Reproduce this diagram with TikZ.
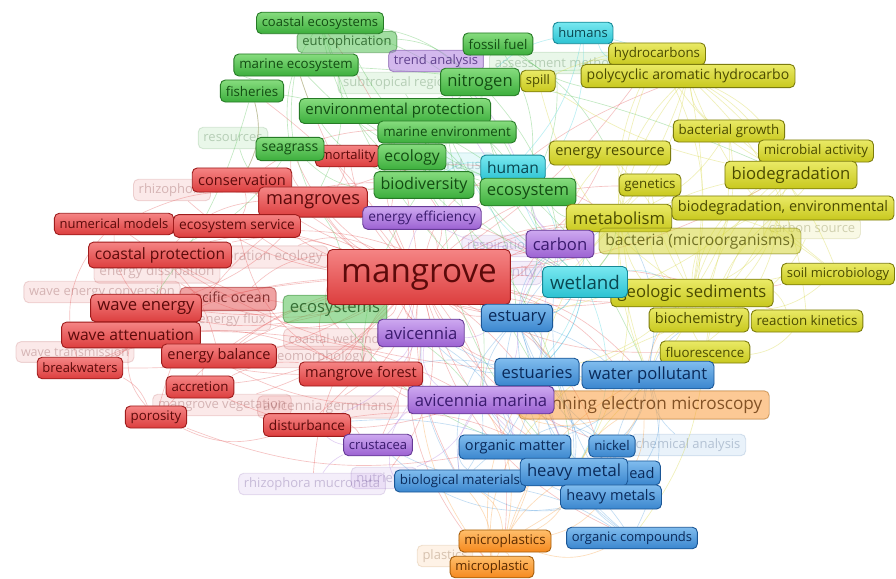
\documentclass[tikz,border=0pt]{standalone}
\usepackage{fontspec}
\setmainfont{Open Sans}
\definecolor{rdT}{HTML}{F58484}\definecolor{rdB}{HTML}{DC3E3E}\definecolor{rdM}{HTML}{E55858}\definecolor{rdD}{HTML}{9E1C1C}\definecolor{rdX}{HTML}{5C0A0A}
\definecolor{gnT}{HTML}{86DC7E}\definecolor{gnB}{HTML}{3CAE3C}\definecolor{gnM}{HTML}{55C255}\definecolor{gnD}{HTML}{267A26}\definecolor{gnX}{HTML}{124C12}
\definecolor{ylT}{HTML}{EAEA66}\definecolor{ylB}{HTML}{C8C81E}\definecolor{ylM}{HTML}{D6D63A}\definecolor{ylD}{HTML}{7C7C0E}\definecolor{ylX}{HTML}{4A4A00}
\definecolor{puT}{HTML}{CDA8F0}\definecolor{puB}{HTML}{9C62D2}\definecolor{puM}{HTML}{B07FE0}\definecolor{puD}{HTML}{663A96}\definecolor{puX}{HTML}{3A1A6E}
\definecolor{blT}{HTML}{80BCEE}\definecolor{blB}{HTML}{3A86CE}\definecolor{blM}{HTML}{55A0E0}\definecolor{blD}{HTML}{1A5696}\definecolor{blX}{HTML}{0A2A5A}
\definecolor{cyT}{HTML}{78E8F0}\definecolor{cyB}{HTML}{2CC2D2}\definecolor{cyM}{HTML}{45D4E0}\definecolor{cyD}{HTML}{168896}\definecolor{cyX}{HTML}{0A4650}
\definecolor{ogT}{HTML}{FFBE6A}\definecolor{ogB}{HTML}{F5891E}\definecolor{ogM}{HTML}{FA9E3E}\definecolor{ogD}{HTML}{A65E0C}\definecolor{ogX}{HTML}{5A2A00}
\pgfdeclarelayer{bg}
\pgfdeclarelayer{faded}
\pgfdeclarelayer{edges}
\pgfsetlayers{bg,faded,edges,main}
\tikzset{
  kw/.style={rounded corners=5pt, line width=0.9pt, inner ysep=0pt},
  fs/.code={\pgfmathsetmacro\myfsz{1.04*#1}%
    \edef\myfscmd{\noexpand\tikzset{font=\noexpand\fontsize{\myfsz}{\myfsz}\noexpand\selectfont}}\myfscmd
    \tikzset{minimum height={1.72*#1}, inner xsep={0.42*#1}}},
}
\newcommand\mkclus[1]{\tikzset{
  #1/.style={kw, draw=#1D, top color=#1T, bottom color=#1B, text=#1X},
  #1s/.style={kw, draw=#1D, fill=#1M, fill opacity=.55, draw opacity=.5, text opacity=.75, text=#1X},
  #1f/.style={kw, draw=#1D, fill=#1M, fill opacity=.13, draw opacity=.16, text opacity=.24, text=#1X},
  #1e/.style={draw=#1M, draw opacity=.36, line width=.65pt}}}
\mkclus{rd}\mkclus{gn}\mkclus{yl}\mkclus{pu}\mkclus{bl}\mkclus{cy}\mkclus{og}
\begin{document}
\begin{tikzpicture}[x=1pt,y=-1pt]
\begin{pgfonlayer}{bg}
\fill[white] (0,0) rectangle (896,578);
\end{pgfonlayer}
\useasboundingbox (0,0) rectangle (896,578);
% faded labels
\begin{pgfonlayer}{faded}
\node[gnf, fs=12.5] (subtrop) at (398,83) {subtropical region};
\node[gnf, fs=12.5] (resource) at (233,138) {resources};
\node[gnf, fs=12.5] (assess) at (556,63) {assessment method};
\node[cyf, fs=13] (landuse) at (462,164) {land use};
\node[ylf, fs=12.5] (carbSrc) at (812,228) {carbon source};
\node[puf, fs=12.5] (respir) at (500,246) {respiration};
\node[puf, fs=13.5] (salin) at (513,273) {salinity};
\node[puf, fs=12.5] (nutr) at (384,478) {nutrients};
\node[puf, fs=12.5] (rhizM) at (312,484) {rhizophora mucronata};
\node[rdf, fs=12.5] (rhizo) at (172,190) {rhizophora};
\node[rdf, fs=13] (restor) at (262,257) {restoration ecology};
\node[rdf, fs=13] (enDiss) at (157,272) {energy dissipation};
\node[rdf, fs=12.5] (waveConv) at (102,292) {wave energy conversion};
\node[rdf, fs=12.5] (enFlux) at (232,320) {energy flux};
\node[rdf, fs=12] (coastWet) at (334,339) {coastal wetland};
\node[rdf, fs=12] (waveTr) at (75,352) {wave transmission};
\node[rdf, fs=12.5] (geomorph) at (318,357) {geomorphology};
\node[rdf, fs=12.5] (mangVeg) at (222,405) {mangrove vegetation};
\node[rdf, fs=13] (avicG) at (328,407) {avicennia germinans};
\node[blf, fs=12.5] (chemAn) at (688,445) {chemical analysis};
\node[ogf, fs=12.5] (plast) at (445,556) {plastics};
\end{pgfonlayer}
% main labels
\node[gns, fs=12.5] (eutro) at (347,42) {eutrophication};
\node[gn, fs=12.5] (coastEco) at (320,23) {coastal ecosystems};
\node[gn, fs=12.8] (marEco) at (296,65) {marine ecosystem};
\node[gn, fs=12.8] (fish) at (252,91) {fisheries};
\node[pus, fs=12.5] (trend) at (436,61) {trend analysis};
\node[gn, fs=12.8] (fossil) at (498,44) {fossil fuel};
\node[yl, fs=12.5] (spill) at (538,81) {spill};
\node[gn, fs=16] (nitro) at (480,82) {nitrogen};
\node[gn, fs=14.5] (envProt) at (395,111) {environmental protection};
\node[gn, fs=12.8] (marEnv) at (447,132) {marine environment};
\node[rd, fs=12.5] (mort) at (348,156) {mortality};
\node[gn, fs=13.5] (seagr) at (290,149) {seagrass};
\node[gn, fs=15] (ecol) at (412,157) {ecology};
\node[cy, fs=15] (human) at (513,168) {human};
\node[gn, fs=15.5] (biodiv) at (424,185) {biodiversity};
\node[gn, fs=16] (ecosys) at (528,192) {ecosystem};
\node[cy, fs=12.5] (humans) at (583,33) {humans};
\node[yl, fs=12.8] (hydro) at (657,54) {hydrocarbons};
\node[yl, fs=13.5] (pah) at (688,76) {polycyclic aromatic hydrocarbo};
\node[yl, fs=12.8] (bactGr) at (729,131) {bacterial growth};
\node[yl, fs=14] (enRes) at (610,153) {energy resource};
\node[yl, fs=12.8] (microb) at (816,151) {microbial activity};
\node[yl, fs=16] (biodeg) at (791,175) {biodegradation};
\node[yl, fs=12.8] (genet) at (650,185) {genetics};
\node[yl, fs=14] (biodegEnv) at (783,208) {biodegradation, environmental};
\node[yl, fs=16] (metab) at (619,218) {metabolism};
\node[yls, fs=15] (bactMicro) at (700,241) {bacteria (microorganisms)};
\node[pu, fs=16] (carbon) at (560,244) {carbon};
\node[yl, fs=12.5] (soilMic) at (838,274) {soil microbiology};
\node[yl, fs=16] (geoSed) at (692,293) {geologic sediments};
\node[cy, fs=18] (wetland) at (585,282) {wetland};
\node[yl, fs=12.8] (reactK) at (807,321) {reaction kinetics};
\node[yl, fs=14] (biochem) at (699,320) {biochemistry};
\node[yl, fs=12.8] (fluor) at (705,352) {fluorescence};
\node[rd, fs=14] (conserv) at (242,180) {conservation};
\node[rd, fs=17.5] (mangroves) at (313,202) {mangroves};
\node[rd, fs=12.5] (numMod) at (114,224) {numerical models};
\node[rd, fs=13.2] (ecoServ) at (237,226) {ecosystem service};
\node[pu, fs=13.2] (enEff) at (422,218) {energy efficiency};
\node[rd, fs=15] (coastProt) at (160,255) {coastal protection};
\node[rds, fs=13.5] (pacific) at (228,299) {pacific ocean};
\node[rd, fs=16] (waveEn) at (146,308) {wave energy};
\node[rd, fs=15] (waveAtt) at (131,335) {wave attenuation};
\node[rd, fs=12.5] (breakw) at (80,368) {breakwaters};
\node[rd, fs=14] (enBal) at (219,356) {energy balance};
\node[gns, fs=16] (ecosyss) at (335,309) {ecosystems};
\node[rd, fs=32] (mangrove) at (419,277) {mangrove};
\node[pu, fs=16] (avic) at (421,333) {avicennia};
\node[bl, fs=16] (estuary) at (517,318) {estuary};
\node[rd, fs=14] (mangFor) at (361,374) {mangrove forest};
\node[rd, fs=12.8] (accr) at (200,387) {accretion};
\node[rd, fs=12.8] (poros) at (156,417) {porosity};
\node[rd, fs=13.2] (disturb) at (307,425) {disturbance};
\node[ogs, fs=16.5] (sem) at (644,405) {scanning electron microscopy};
\node[bl, fs=16] (estuaries) at (537,372) {estuaries};
\node[bl, fs=16] (waterPol) at (648,375) {water pollutant};
\node[pu, fs=16] (avicM) at (481,400) {avicennia marina};
\node[pu, fs=12.5] (crust) at (378,445) {crustacea};
\node[bl, fs=14] (orgMat) at (515,447) {organic matter};
\node[bl, fs=12.8] (nickel) at (612,446) {nickel};
\node[bl, fs=14] (lead) at (640,473) {lead};
\node[bl, fs=12.8] (bioMat) at (460,481) {biological materials};
\node[bl, fs=16] (heavyM) at (574,472) {heavy metal};
\node[bl, fs=14] (heavyMs) at (611,497) {heavy metals};
\node[bl, fs=12.5] (orgComp) at (632,538) {organic compounds};
\node[og, fs=12.5] (micro2) at (492,567) {microplastic};
\node[og, fs=12.8] (micro1) at (505,541) {microplastics};
% connectors
\begin{pgfonlayer}{edges}
\foreach \a/\b/\c in {mangrove/mangroves/10, mangrove/conserv/15, mangrove/numMod/-10, mangrove/ecoServ/10, mangrove/coastProt/-15, mangrove/waveEn/10, mangrove/waveAtt/-10, mangrove/breakw/15, mangrove/enBal/-10, mangrove/accr/20, mangrove/poros/-15, mangrove/disturb/10, mangrove/mangFor/-20, mangrove/seagr/15, mangrove/fish/-10, mangrove/marEco/10, mangrove/coastEco/-15, mangrove/envProt/20, mangrove/estuary/-20, mangrove/heavyM/15, mangrove/orgMat/-10, mangrove/wetland/20, mangrove/carbon/-15, mangrove/metab/10, mangrove/biodeg/-10, mangrove/pah/15, mangrove/hydro/-10, mangrove/micro1/20, mangrove/bioMat/-15, mangrove/crust/10, mangrove/geoSed/-10, mangrove/waterPol/15, mangrove/nickel/-20, mangrove/biochem/10, mangroves/coastProt/-20, mangroves/waveEn/15, conserv/ecoServ/20, numMod/waveEn/-20, waveEn/breakw/25, waveAtt/poros/-25, breakw/poros/20, coastProt/waveAtt/25, enBal/accr/-20, accr/mangFor/15, poros/disturb/-20, numMod/breakw/-30, coastProt/enBal/15, mangroves/seagr/20, conserv/fish/-20, ecoServ/biodiv/15, mangFor/avicM/-10, disturb/crust/15, waveEn/enBal/-15, mangroves/ecosys/10, conserv/marEnv/15, coastProt/ecosyss/-10, numMod/mangroves/15, waveAtt/mangFor/-10, breakw/enBal/15, poros/mangroves/20,
 coastProt/estuary/25, waveEn/avicM/-20, waveAtt/heavyM/20, conserv/carbon/-25, ecoServ/wetland/20, numMod/estuaries/-15, breakw/mangFor/25, accr/avicM/-20, enBal/estuary/20, poros/orgMat/-15, disturb/heavyM/20, mangFor/estuaries/-20, mangroves/metab/25, mangroves/estuary/-20, conserv/avic/15, ecoServ/mangFor/-25, mangrove/avicM/25, mangrove/avic/-30, mangrove/ecosyss/30, mangrove/biodiv/-30, mangrove/ecol/30, mangrove/enEff/-30, mangrove/human/25, mangrove/estuaries/-25, mangrove/sem/20, mangrove/fluor/-15, mangrove/genet/20, mangrove/enRes/-20, mangrove/bactMicro/15, mangrove/soilMic/-10, mangrove/reactK/12, mangrove/orgComp/-25, mangrove/heavyMs/25, mangrove/micro2/-25, mangrove/waveConv/20, mangrove/restor/-25, mangrove/enDiss/25, mangrove/coastWet/-30, mangrove/avicG/20, mangrove/rhizM/-20, mangrove/nutr/25, mangrove/rhizo/15, mangrove/pacific/-20, mangrove/enFlux/20, mangrove/waveTr/-10, mangrove/mangVeg/15, mangrove/geomorph/-25, mort/mangroves/20, mort/mangrove/-15}
  \draw[rde, bend left=\c] (\a) to (\b);
\foreach \a/\b/\c in {envProt/biodiv/20, marEco/ecosys/-15, fish/ecol/15, coastEco/biodiv/-20, seagr/ecosys/10, nitro/ecosys/-20, fossil/enRes/15, marEnv/wetland/-15, ecosys/estuary/20, biodiv/mangFor/-15, ecosyss/avicM/15, coastEco/seagr/-20, fish/conserv/20, marEco/mangroves/-15, envProt/pah/10, nitro/carbon/15, ecol/wetland/-10, biodiv/heavyM/20, ecosys/metab/-15, seagr/coastProt/15, marEnv/estuaries/-10, envProt/waterPol/20, coastEco/estuary/-15, fish/waveEn/10, ecosyss/orgMat/-15, marEco/biodeg/10, fossil/pah/-15, coastEco/nitro/15,
 coastEco/ecosys/25, marEco/biodiv/-25, envProt/ecosys/20, marEnv/biodiv/-20, fish/marEco/30, eutro/nitro/20, nitro/biodiv/-25, ecol/biodiv/30, seagr/biodiv/-20, ecosyss/estuary/20, ecosyss/mangroves/-25, envProt/estuary/25, nitro/wetland/-20, fossil/ecosys/20, marEnv/heavyM/-25, biodiv/avicM/20, ecosys/carbon/-20, coastEco/mangroves/25, subtrop/biodiv/20, resource/mangroves/-20, assess/ecosys/15, eutro/ecosys/-20}
  \draw[gne, bend left=\c] (\a) to (\b);
\foreach \a/\b/\c in {pah/biodeg/20, hydro/biodeg/-15, bactGr/metab/15, microb/geoSed/-20, biodegEnv/biochem/15, soilMic/biochem/-15, reactK/fluor/20, genet/geoSed/-10, metab/wetland/15, enRes/carbon/-15, bactMicro/waterPol/20, fluor/heavyM/-15, pah/geoSed/10, hydro/waterPol/-20, pah/estuary/15, soilMic/metab/-20, biodeg/biochem/10, microb/fluor/-15, pah/reactK/20, spill/biodeg/-10, bactGr/soilMic/15, biodegEnv/fluor/-20, microb/bactMicro/15, genet/estuaries/-15, metab/heavyM/20, enRes/geoSed/10, biochem/orgMat/-15, fluor/orgComp/15, hydro/carbSrc/15, pah/soilMic/-15, bactGr/biochem/10, biodeg/estuary/15,
 pah/biodegEnv/25, pah/metab/-20, hydro/geoSed/20, biodeg/geoSed/-25, biodegEnv/geoSed/20, metab/biochem/-25, bactGr/geoSed/20, microb/biochem/-20, soilMic/geoSed/25, reactK/geoSed/-15, fluor/geoSed/20, genet/biochem/-25, enRes/metab/20, hydro/metab/-15, pah/carbon/25, biodeg/wetland/-20, biodegEnv/waterPol/25, biochem/waterPol/-20, geoSed/estuaries/15, pah/waterPol/-30, carbSrc/biochem/20, bactMicro/biochem/-15, pah/hydro/30, pah/bactGr/-25, microb/biodegEnv/20, genet/metab/-30, spill/pah/20, spill/geoSed/-20}
  \draw[yle, bend left=\c] (\a) to (\b);
\foreach \a/\b/\c in {estuary/heavyM/20, waterPol/heavyMs/-15, orgMat/orgComp/15, nickel/heavyMs/-20, estuaries/bioMat/15, heavyM/orgComp/-15, waterPol/geoSed/20, estuary/avicM/-15, heavyMs/avicM/15, nickel/waterPol/-20, bioMat/avic/15, estuaries/wetland/-15, estuary/carbon/20, heavyM/crust/15, orgMat/avic/-20, waterPol/biochem/15, estuaries/mangFor/-10, heavyMs/bioMat/20, nickel/estuary/15, orgComp/waterPol/-20, heavyM/disturb/-15, estuary/metab/10, heavyMs/estuaries/15, orgMat/waterPol/-15, bioMat/orgComp/10,
 estuary/estuaries/30, estuary/waterPol/-25, estuary/orgMat/20, estuary/bioMat/-25, estuaries/heavyM/25, estuaries/orgComp/-20, waterPol/heavyM/25, heavyMs/orgMat/20, orgMat/bioMat/-25, heavyM/chemAn/15, waterPol/chemAn/-20, estuary/sem/15, heavyMs/crust/25, bioMat/avicM/-20, orgComp/estuary/25, heavyM/avic/-20, estuaries/avic/20, nickel/orgMat/-30, lead/estuary/20, lead/waterPol/-25, heavyMs/carbon/20, estuary/wetland/-20, orgMat/carbon/25, waterPol/metab/-20}
  \draw[ble, bend left=\c] (\a) to (\b);
\foreach \a/\b/\c in {avic/crust/20, avicM/crust/-15, carbon/ecosys/15, enEff/carbon/-15, avic/mangFor/15, avicM/bioMat/-20, crust/disturb/15, carbon/estuary/-15, avicM/estuaries/10, avic/estuary/-15, enEff/mangroves/10, carbon/wetland/15, avicM/heavyMs/-10, trend/ecosys/15, trend/carbon/-10,
 avicM/avic/30, avicM/estuary/-25, carbon/metab/20, enEff/avic/-25, avic/disturb/20, crust/bioMat/-20, avicM/orgMat/25, carbon/heavyM/-20, respir/carbon/20, salin/estuary/-20, rhizM/crust/15, nutr/avicM/-20}
  \draw[pue, bend left=\c] (\a) to (\b);
\foreach \a/\b/\c in {micro1/heavyMs/-15, micro2/orgMat/15, micro1/avicM/-20, micro2/heavyM/15, sem/avicM/20, micro1/estuaries/-15, sem/heavyM/-15, micro1/waterPol/20, micro2/bioMat/-20, sem/fluor/15, micro1/orgComp/-20, sem/estuary/15,
 micro1/micro2/30, micro1/heavyM/-25, micro2/estuaries/20, sem/waterPol/25, sem/orgMat/-20, sem/heavyMs/20, micro1/sem/-15, micro2/avic/20, plast/micro1/15, micro1/bioMat/-25, sem/geoSed/20}
  \draw[oge, bend left=\c] (\a) to (\b);
\foreach \a/\b/\c in {humans/human/15, human/wetland/-15, humans/ecosys/20, wetland/estuaries/15, humans/nitro/-15, human/carbon/15, wetland/metab/-15, humans/pah/10,
 wetland/estuary/20, wetland/carbon/-25, human/ecosys/20, wetland/heavyM/25, human/biodiv/-20, wetland/geoSed/20, humans/hydro/-20, wetland/avicM/20, landuse/wetland/-15}
  \draw[cye, bend left=\c] (\a) to (\b);
\end{pgfonlayer}
\end{tikzpicture}
\end{document}
